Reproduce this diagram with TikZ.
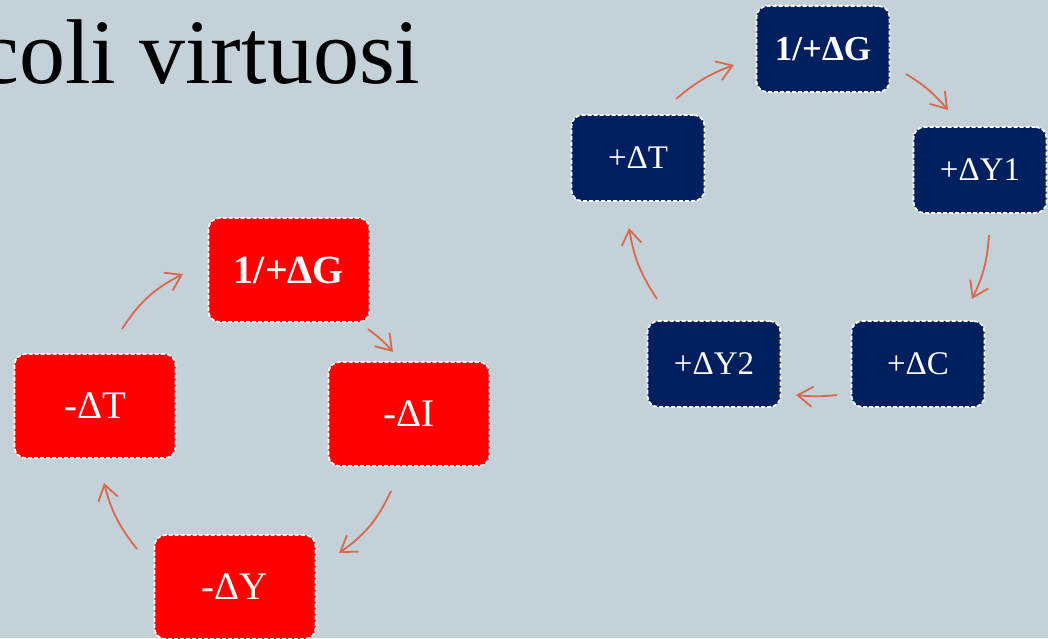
\documentclass[tikz,border=0pt]{standalone}
\usepackage{fontspec}
\setmainfont{Liberation Serif}
\usetikzlibrary{arrows.meta}
\definecolor{sfondo}{HTML}{C5D1D8}
\definecolor{rosso}{HTML}{FF0000}
\definecolor{blu}{HTML}{001F5F}
\definecolor{arancio}{HTML}{D6694E}
\tikzset{
	box/.style={rounded corners=11pt,draw=white,line width=1.7pt,dash pattern=on 4pt off 2pt,text=white,inner sep=0pt},
	redbox/.style={box,fill=rosso,minimum width=161pt,minimum height=104pt,font=\fontsize{39}{42}\selectfont},
	bluebox/.style={box,fill=blu,minimum width=133pt,minimum height=86pt,font=\fontsize{33}{36}\selectfont},
	freccia/.style={draw=arancio,line width=1.8pt,-{Straight Barb[length=15pt,width=20pt,line width=1.8pt]}}
}
\begin{document}
\begin{tikzpicture}[x=1pt,y=-1pt]
	\fill[sfondo] (0,0) rectangle (1048,638);
	\useasboundingbox (0,0) rectangle (1048,638);
	\clip (0,0) rectangle (1048,638);
	\node[anchor=base east,font=\fontsize{92}{100}\selectfont] (titolo) at (424,83) {coli virtuosi};
	% ciclo rosso
	\node[redbox,font=\bfseries\fontsize{40}{42}\selectfont] (rG) at (289,270) {1/+ΔG};
	\node[redbox] (rI) at (409,414) {-ΔI};
	\node[redbox] (rY) at (235,587) {-ΔY};
	\node[redbox] (rT) at (95,406) {-ΔT};
	\coordinate (r1) at (122,329); \coordinate (r2) at (183,274);
	\coordinate (r3) at (368,329); \coordinate (r4) at (393,352);
	\coordinate (r5) at (391,491); \coordinate (r6) at (339,553);
	\coordinate (r7) at (137,549); \coordinate (r8) at (104,483);
	\draw[freccia] (r1) to[bend left=15] (r2);
	\draw[freccia] (r3) to[bend left=6] (r4);
	\draw[freccia] (r5) to[bend left=15] (r6);
	\draw[freccia] (r7) to[bend left=12] (r8);
	% ciclo blu
	\node[bluebox,font=\bfseries\fontsize{35}{38}\selectfont] (bG) at (823,49) {1/+ΔG};
	\node[bluebox] (bY1) at (980,170) {+ΔY1};
	\node[bluebox] (bC) at (918,364) {+ΔC};
	\node[bluebox] (bY2) at (714,364) {+ΔY2};
	\node[bluebox] (bT) at (638,158) {+ΔT};
	\coordinate (b1) at (676,99); \coordinate (b2) at (734,65);
	\coordinate (b3) at (906,74); \coordinate (b4) at (948,110);
	\coordinate (b5) at (989,235); \coordinate (b6) at (972,299);
	\coordinate (b7) at (837,395); \coordinate (b8) at (796,395);
	\coordinate (b9) at (657,299); \coordinate (b10) at (629,228);
	\draw[freccia] (b1) to[bend left=10] (b2);
	\draw[freccia] (b3) to[bend left=9] (b4);
	\draw[freccia] (b5) to[bend left=11] (b6);
	\draw[freccia] (b7) to[bend left=6] (b8);
	\draw[freccia] (b9) to[bend left=12] (b10);
\end{tikzpicture}
\end{document}
